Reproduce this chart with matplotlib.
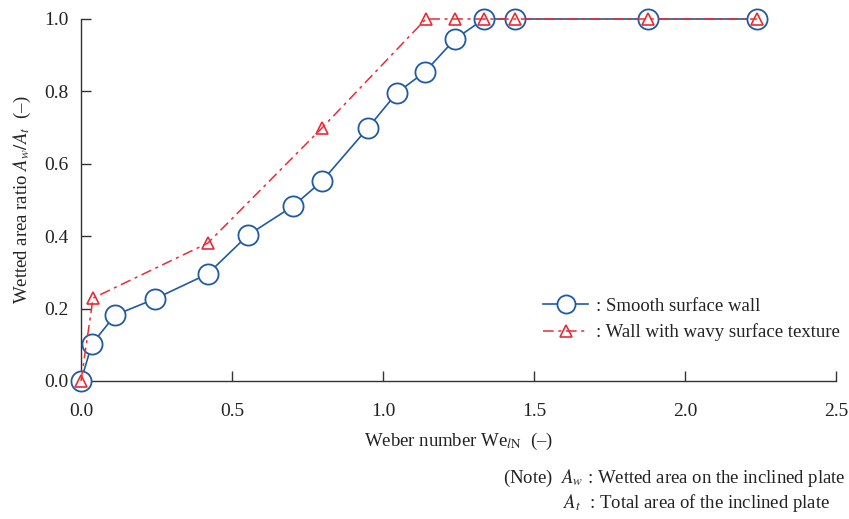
import numpy as np
import matplotlib
matplotlib.use("Agg")
import matplotlib.pyplot as plt

plt.rcParams['font.family'] = ['Liberation Serif', 'DejaVu Serif']
plt.rcParams['mathtext.fontset'] = 'stix'

# smooth surface wall
we_smooth = [0.0, 0.036, 0.113, 0.245, 0.42, 0.553, 0.702, 0.798, 0.95, 1.046, 1.139, 1.238, 1.334, 1.437, 1.877, 2.238]
ar_smooth = [0.0, 0.102, 0.182, 0.227, 0.296, 0.403, 0.483, 0.552, 0.699, 0.796, 0.854, 0.944, 1.0, 1.0, 1.0, 1.0]

# wavy surface texture
we_wavy = [0.0, 0.04, 0.42, 0.798, 1.142, 1.238, 1.334, 1.437, 1.877, 2.238]
ar_wavy = [0.0, 0.229, 0.381, 0.699, 1.0, 1.0, 1.0, 1.0, 1.0, 1.0]

blue = '#1f5aa6'
red = '#ec2a35'
grey = '#333333'

fig = plt.figure(figsize=(8.49, 5.19), dpi=100)
ax = fig.add_axes([0.0954, 0.2659, 0.8893, 0.6975])

ax.plot(we_smooth, ar_smooth, '-', color=blue, lw=1.2, marker='o', ms=14.5,
        mfc='white', mec=blue, mew=1.3, clip_on=False, zorder=3,
        label=': Smooth surface wall')
ax.plot(we_wavy, ar_wavy, color=red, lw=1.1, dashes=(7, 3, 2, 3), marker='^', ms=9,
        mfc='none', mec=red, mew=1.2, clip_on=False, zorder=4,
        label=': Wall with wavy surface texture')

ax.set_xlim(0, 2.5)
ax.set_ylim(0, 1.0)
ax.set_xticks(np.arange(0, 2.51, 0.5))
ax.set_yticks(np.arange(0, 1.01, 0.2))
ax.set_xticklabels(['%.1f' % v for v in np.arange(0, 2.51, 0.5)])
ax.set_yticklabels(['%.1f' % v for v in np.arange(0, 1.01, 0.2)])

for s in ['top', 'right']:
    ax.spines[s].set_visible(False)
for s in ['left', 'bottom']:
    ax.spines[s].set_color(grey)
    ax.spines[s].set_linewidth(1.0)
ax.tick_params(direction='in', length=7, width=1.0, colors=grey, labelsize=14,
               labelcolor='#222222')
ax.tick_params(axis='y', pad=9)
ax.tick_params(axis='x', pad=16)

ax.set_xlabel(r'Weber number We$_{l\mathrm{N}}$  (–)', fontsize=13.5, color='#222222', labelpad=8)
ax.set_ylabel(r'Wetted area ratio $A_w/A_t$  (–)', fontsize=13.5, color='#222222', labelpad=8)

leg = ax.legend(loc='center left', bbox_to_anchor=(0.59, 0.17), frameon=False,
                fontsize=13.5, handlelength=2.4, handletextpad=0.4, labelspacing=0.45,
                markerscale=0.9)
for t in leg.get_texts():
    t.set_color('#222222')

fig.text(0.592, 0.07, r'(Note)  $A_w$ : Wetted area on the inclined plate', fontsize=13.5, color='#222222')
fig.text(0.663, 0.022, r'$A_t$  : Total area of the inclined plate', fontsize=13.5, color='#222222')

fig.savefig('out.png', dpi=100)
